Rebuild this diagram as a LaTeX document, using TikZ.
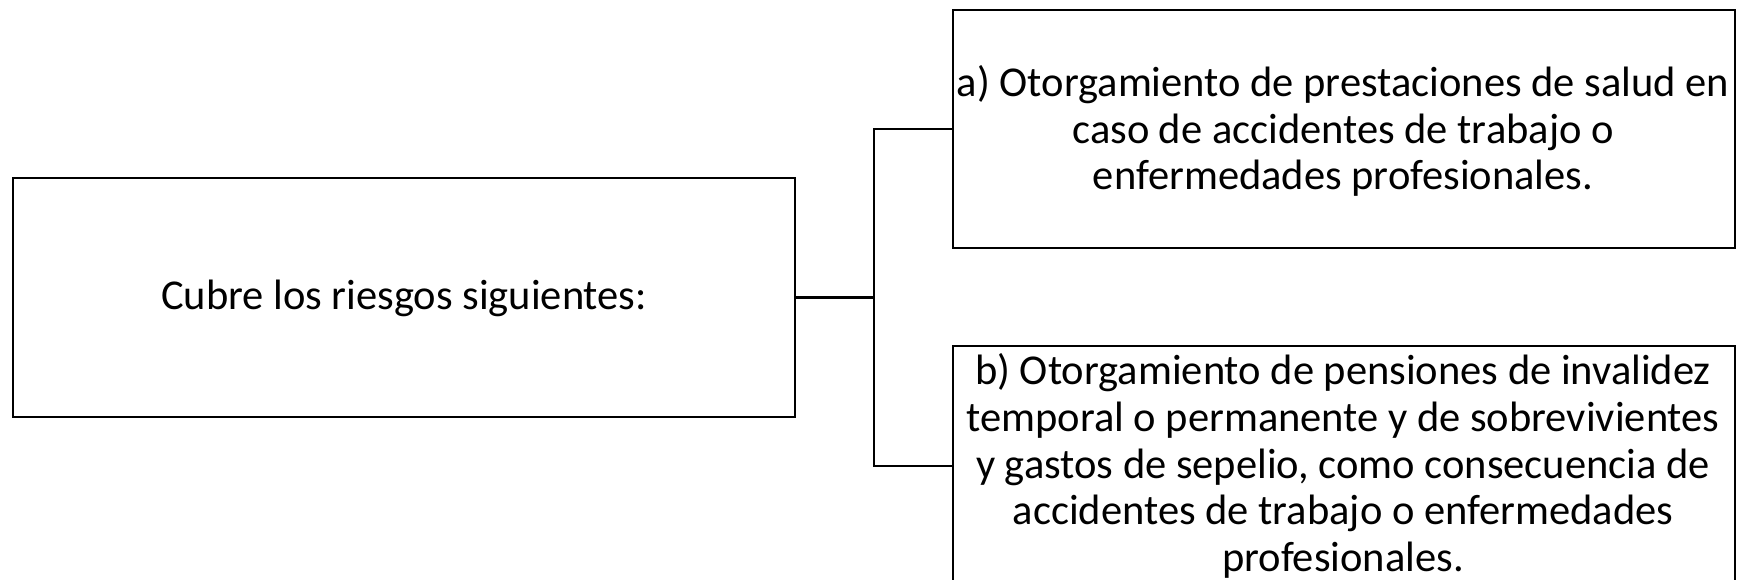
\documentclass[tikz,border=0pt]{standalone}
\usepackage{fontspec}
\setmainfont{Carlito}
\begin{document}
\begin{tikzpicture}[x=1pt,y=-1pt,
  box/.style={draw, line width=2.6pt, rectangle, inner sep=0pt},
  txt/.style={align=center, font=\fontsize{42.5}{46.7}\selectfont, inner sep=0pt},
  conn/.style={line width=2.6pt}]
\useasboundingbox (0,0) rectangle (1737,580);
\node[box, minimum width=782, minimum height=239] (L) at (404,297.5) {};
\node[box, minimum width=782, minimum height=238] (A) at (1344,129) {};
\node[box, minimum width=782, minimum height=250] (B) at (1344,471) {};
\node[txt] (Lt) at (404,298) {Cubre los riesgos siguientes:};
\node[txt] (At) at (1343,131) {a) Otorgamiento de prestaciones de salud en\\caso de accidentes de trabajo o\\enfermedades profesionales.};
\node[txt] (Bt) at (1343,466) {b) Otorgamiento de pensiones de invalidez\\temporal o permanente y de sobrevivientes\\y gastos de sepelio, como consecuencia de\\accidentes de trabajo o enfermedades\\profesionales.};
\coordinate (j) at (874,297.5);
\coordinate (bin) at (953,466);
\draw[conn] (L.east) -- (j);
\draw[conn] (A.west) -| (j) |- (bin);
\end{tikzpicture}
\end{document}
